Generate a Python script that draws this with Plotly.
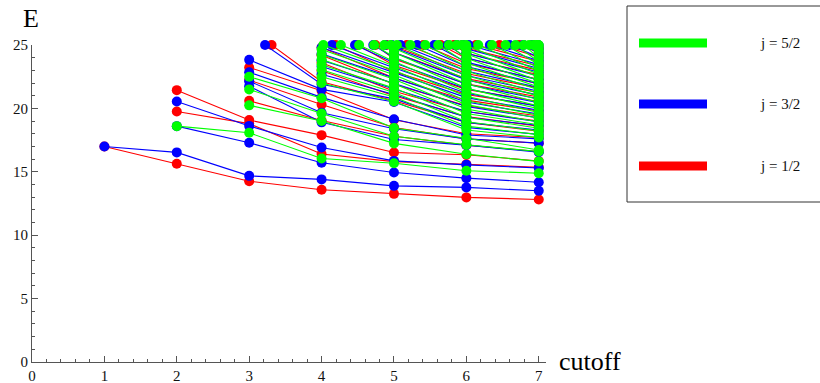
import plotly.graph_objects as go

# ---------------- data: energy levels E per cutoff, one list per (j, cutoff) ----------------
cutoffs = [1, 2, 3, 4, 5, 6, 7]

# j = 1/2 (red)
j12_c1 = [17.0]
j12_c2 = [15.63, 19.76, 21.44]
j12_c3 = [14.26, 18.80, 19.08, 20.60, 22.23, 23.23, 26.30]
j12_c4 = [13.58, 16.40, 17.89, 19.05, 20.30, 21.40, 22.10, 22.97, 23.60, 24.20, 24.80, 25.50, 26.60, 28.20, 30.20]
j12_c5 = [13.26, 15.80, 16.52, 17.80, 18.50, 19.10, 20.60, 21.00, 21.35, 21.90, 22.40, 22.90, 23.40, 23.90,
          24.40, 24.90, 25.40, 26.00, 26.90, 28.10, 29.60, 31.50]
j12_c6 = [12.98, 15.60, 16.35, 17.10, 17.60, 18.00, 18.90, 19.35, 19.75, 20.20, 20.65, 21.10, 21.50, 21.95,
          22.35, 22.75, 23.15, 23.55, 23.95, 24.35, 24.75, 25.20, 25.80, 26.60, 27.70, 29.00, 30.60, 32.50,
          34.60, 37.00]
j12_c7 = [12.82, 15.35, 15.85, 16.60, 17.25, 17.70, 18.20, 18.60, 19.00, 19.40, 19.80, 20.20, 20.55, 20.90,
          21.25, 21.60, 21.95, 22.30, 22.65, 23.00, 23.35, 23.70, 24.05, 24.40, 24.75, 25.10, 25.50, 26.00,
          26.60, 27.30]

# j = 3/2 (blue)
j32_c1 = [17.0]
j32_c2 = [16.53, 18.60, 20.55]
j32_c3 = [14.68, 17.29, 18.62, 21.75, 22.15, 22.85, 23.83, 25.87]
j32_c4 = [14.40, 15.71, 16.92, 18.90, 19.65, 20.87, 21.50, 21.90, 22.70, 23.30, 23.80, 24.30, 24.80, 25.30,
          26.20, 27.50, 29.30, 31.50]
j32_c5 = [13.89, 14.95, 15.86, 17.55, 18.40, 19.15, 20.50, 20.75, 21.10, 21.50, 22.00, 22.40, 22.80, 23.20,
          23.60, 24.00, 24.40, 24.80, 25.20, 25.80, 26.70, 27.90, 29.40, 31.20]
j32_c6 = [13.77, 14.50, 15.55, 17.10, 17.60, 17.90, 18.50, 18.90, 19.30, 19.75, 20.15, 20.50, 20.85, 21.20,
          21.55, 21.90, 22.25, 22.60, 22.95, 23.30, 23.65, 24.00, 24.35, 24.70, 25.05, 25.60, 26.40, 27.40,
          28.70, 30.20, 32.00, 34.00]
j32_c7 = [13.50, 14.18, 15.30, 16.55, 17.26, 17.60, 17.95, 18.30, 18.65, 18.95, 19.25, 19.55, 19.85, 20.15,
          20.45, 20.75, 21.05, 21.35, 21.65, 21.95, 22.25, 22.55, 22.85, 23.15, 23.45, 23.75, 24.05, 24.35,
          24.65, 24.95, 25.25, 25.60]

# j = 5/2 (green)
j52_c1 = []
j52_c2 = [18.60]
j52_c3 = [18.08, 20.24, 21.50, 22.50]
j52_c4 = [16.05, 19.00, 19.60, 20.80, 22.00, 22.50, 23.05, 23.45, 23.85, 24.25, 24.65, 25.05, 25.60, 26.40,
          27.50, 28.90, 30.60, 32.80]
j52_c5 = [15.68, 17.24, 17.80, 18.45, 20.55, 20.90, 21.25, 21.60, 21.95, 22.30, 22.65, 23.00, 23.35, 23.70,
          24.05, 24.40, 24.75, 25.10, 25.60, 26.30, 27.20, 28.30, 29.60, 31.20, 33.00, 35.20]
j52_c6 = [15.08, 16.39, 17.13, 17.65, 18.30, 18.60, 18.95, 19.30, 19.60, 19.95, 20.30, 20.60, 20.95, 21.30,
          21.60, 21.95, 22.30, 22.60, 22.95, 23.30, 23.60, 23.95, 24.30, 24.60, 24.95, 25.40, 26.00, 26.80,
          27.80, 29.00, 30.40, 32.00, 33.80, 36.00, 38.50]
j52_c7 = [14.89, 15.82, 16.60, 16.72, 17.70, 17.93, 18.22, 18.44, 18.71, 18.93, 19.22, 19.46, 19.68, 19.97,
          20.19, 20.46, 20.68, 20.97, 21.18, 21.47, 21.69, 21.96, 22.18, 22.47, 22.69, 22.96, 23.18, 23.47,
          23.68, 23.97, 24.18, 24.46, 24.69, 24.96, 25.20]

series_labels = ["j = 1/2", "j = 3/2", "j = 5/2"]
series_colors = ["#ff0000", "#0000ff", "#00ff00"]
series_levels = [
    [j12_c1, j12_c2, j12_c3, j12_c4, j12_c5, j12_c6, j12_c7],
    [j32_c1, j32_c2, j32_c3, j32_c4, j32_c5, j32_c6, j32_c7],
    [j52_c1, j52_c2, j52_c3, j52_c4, j52_c5, j52_c6, j52_c7],
]

Y_MAX = 25
X_RANGE = [0, 7.1]
Y_RANGE = [0, Y_MAX]

# ---------------- layout geometry (pixels) ----------------
W, H = 820, 383
ML, MR, MT, MB = 32, 274, 45, 21
PX0, PX1 = ML, W - MR
PY0, PY1 = MT, H - MB

SERIF = "Liberation Serif, Times New Roman, serif"


def px(x):
    return (x - PX0) / (PX1 - PX0)


def py(y):
    return (PY1 - y) / (PY1 - PY0)


fig = go.Figure()

for levels, color, label in zip(series_levels, series_colors, series_labels):
    nmax = max(len(l) for l in levels)
    lx, ly = [], []
    mx, my = [], []
    for k in range(nmax):
        pts = [(c, l[k]) for c, l in zip(cutoffs, levels) if len(l) > k]
        lx += [p[0] for p in pts] + [None]
        ly += [p[1] for p in pts] + [None]
        for c, e in pts:
            if e <= Y_MAX:
                mx.append(c)
                my.append(e)
        # points where a joined line leaves the plot range (mesh points on the clip edge)
        for (c0, e0), (c1, e1) in zip(pts[:-1], pts[1:]):
            if (e0 - Y_MAX) * (e1 - Y_MAX) < 0:
                mx.append(c0 + (e0 - Y_MAX) / (e0 - e1) * (c1 - c0))
                my.append(Y_MAX)
    fig.add_trace(go.Scatter(x=lx, y=ly, mode="lines", line=dict(color=color, width=1.1),
                             showlegend=False, hoverinfo="skip", name=label))
    fig.add_trace(go.Scatter(x=mx, y=my, mode="markers", marker=dict(color=color, size=10, line=dict(width=0)),
                             cliponaxis=False, showlegend=False, name=label))

axis_color = "#555555"
tick_font = dict(family=SERIF, size=15, color="#111111")

fig.update_layout(
    width=W, height=H,
    margin=dict(l=ML, r=MR, t=MT, b=MB, pad=0, autoexpand=False),
    paper_bgcolor="white", plot_bgcolor="white",
    showlegend=False,
    xaxis=dict(range=X_RANGE, showline=True, linecolor=axis_color, linewidth=1.2, automargin=False,
               ticks="inside", ticklen=6, tickwidth=1, tickcolor=axis_color,
               tickmode="linear", tick0=0, dtick=1, tickfont=tick_font,
               showgrid=False, zeroline=False,
               minor=dict(ticks="inside", ticklen=3, tickwidth=1, tickcolor=axis_color,
                          tickmode="linear", tick0=0, dtick=0.2, showgrid=False)),
    yaxis=dict(range=Y_RANGE, showline=True, linecolor=axis_color, linewidth=1.2, automargin=False,
               ticks="inside", ticklen=6, tickwidth=1, tickcolor=axis_color,
               tickmode="linear", tick0=0, dtick=5, tickfont=tick_font,
               showgrid=False, zeroline=False,
               minor=dict(ticks="inside", ticklen=3, tickwidth=1, tickcolor=axis_color,
                          tickmode="linear", tick0=0, dtick=1, showgrid=False)),
)

# axis labels
fig.add_annotation(text="E", xref="paper", yref="paper", x=px(31), y=py(18),
                   xanchor="center", yanchor="middle", showarrow=False,
                   font=dict(family=SERIF, size=26, color="#000000"))
fig.add_annotation(text="cutoff", xref="paper", yref="paper", x=px(557), y=py(361),
                   xanchor="left", yanchor="middle", showarrow=False,
                   font=dict(family=SERIF, size=26, color="#000000"))

# legend box
fig.add_shape(type="rect", xref="paper", yref="paper", x0=px(627), x1=px(823), y0=py(202), y1=py(6),
              line=dict(color="#333333", width=1), fillcolor="rgba(0,0,0,0)")
legend_rows = [(43, 2), (104, 1), (166, 0)]
for row_y, idx in legend_rows:
    fig.add_shape(type="line", xref="paper", yref="paper", x0=px(639), x1=px(707), y0=py(row_y), y1=py(row_y),
                  line=dict(color=series_colors[idx], width=9))
    fig.add_annotation(text=series_labels[idx], xref="paper", yref="paper", x=px(780), y=py(row_y),
                       xanchor="center", yanchor="middle", showarrow=False,
                       font=dict(family=SERIF, size=15, color="#111111"))

fig.write_html("out.html")
